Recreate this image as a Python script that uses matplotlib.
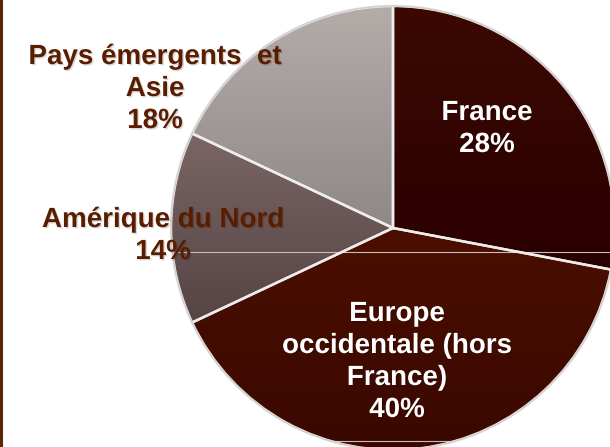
import numpy as np
import matplotlib.pyplot as plt
import matplotlib.patheffects as pe
from matplotlib.colors import LinearSegmentedColormap
from matplotlib.patches import Circle

plt.rcParams['font.family'] = ['Liberation Sans', 'DejaVu Sans']

regions = ["France", "Europe\noccidentale (hors\nFrance)", "Amérique du Nord", "Pays émergents  et\nAsie"]
parts = [28, 40, 14, 18]
# couleurs haut -> bas (degrade vertical de chaque part)
grad_top = ["#3c0902", "#4b0f01", "#7b6565", "#b4aca9"]
grad_bot = ["#2a0000", "#3a0800", "#554444", "#8e8888"]
label_col = ["white", "white", "#5a1d00", "#5a1d00"]
label_pos = [(487, 318), (397, 85), (163, 211), (155, 358)]

fig = plt.figure(figsize=(6.10, 4.47), dpi=100)
ax = fig.add_axes([0, 0, 1, 1])

cx, cy, r = 393, 219, 222
wedges, _ = ax.pie(parts, startangle=90, counterclock=False, center=(cx, cy), radius=r,
                   wedgeprops=dict(facecolor='none', edgecolor='#eeecec', linewidth=1.8, zorder=2))

grad = np.linspace(0, 1, 256).reshape(-1, 1)
for w, top, bot in zip(wedges, grad_top, grad_bot):
    cmap = LinearSegmentedColormap.from_list('g', [bot, top])
    bb = w.get_path().get_extents(w.get_patch_transform())
    im = ax.imshow(grad, cmap=cmap, origin='lower', aspect='auto', zorder=1,
                   extent=[bb.x0, bb.x1, bb.y0, bb.y1], interpolation='bilinear')
    im.set_clip_path(w)

# contour clair du camembert
ax.add_patch(Circle((cx, cy), r, facecolor='none', edgecolor='#d4d0d0', linewidth=1.2, zorder=2))

# fines lignes claires du degrade
clip = Circle((cx, cy), r, transform=ax.transData)
for yy in [195, 6]:
    ln = ax.axhline(yy, color='#cbbcb9', linewidth=0.8, zorder=1.5)
    ln.set_clip_path(clip)

for name, p, col, (tx, ty) in zip(regions, parts, label_col, label_pos):
    t = ax.text(tx, ty, f"{name}\n{p}%", ha='center', va='center', color=col,
                fontsize=20, fontweight='bold', linespacing=1.3, zorder=3)
    t.set_path_effects([pe.withSimplePatchShadow(offset=(1, -1), shadow_rgbFace='black', alpha=0.15)])

# bord du cadre a gauche
ax.plot([1, 1], [0, 447], color='#5a2608', linewidth=2.2, zorder=3)

ax.set_xlim(0, 610)
ax.set_ylim(0, 447)
ax.set_aspect('auto')
ax.axis('off')

fig.savefig('out.png', dpi=100)
